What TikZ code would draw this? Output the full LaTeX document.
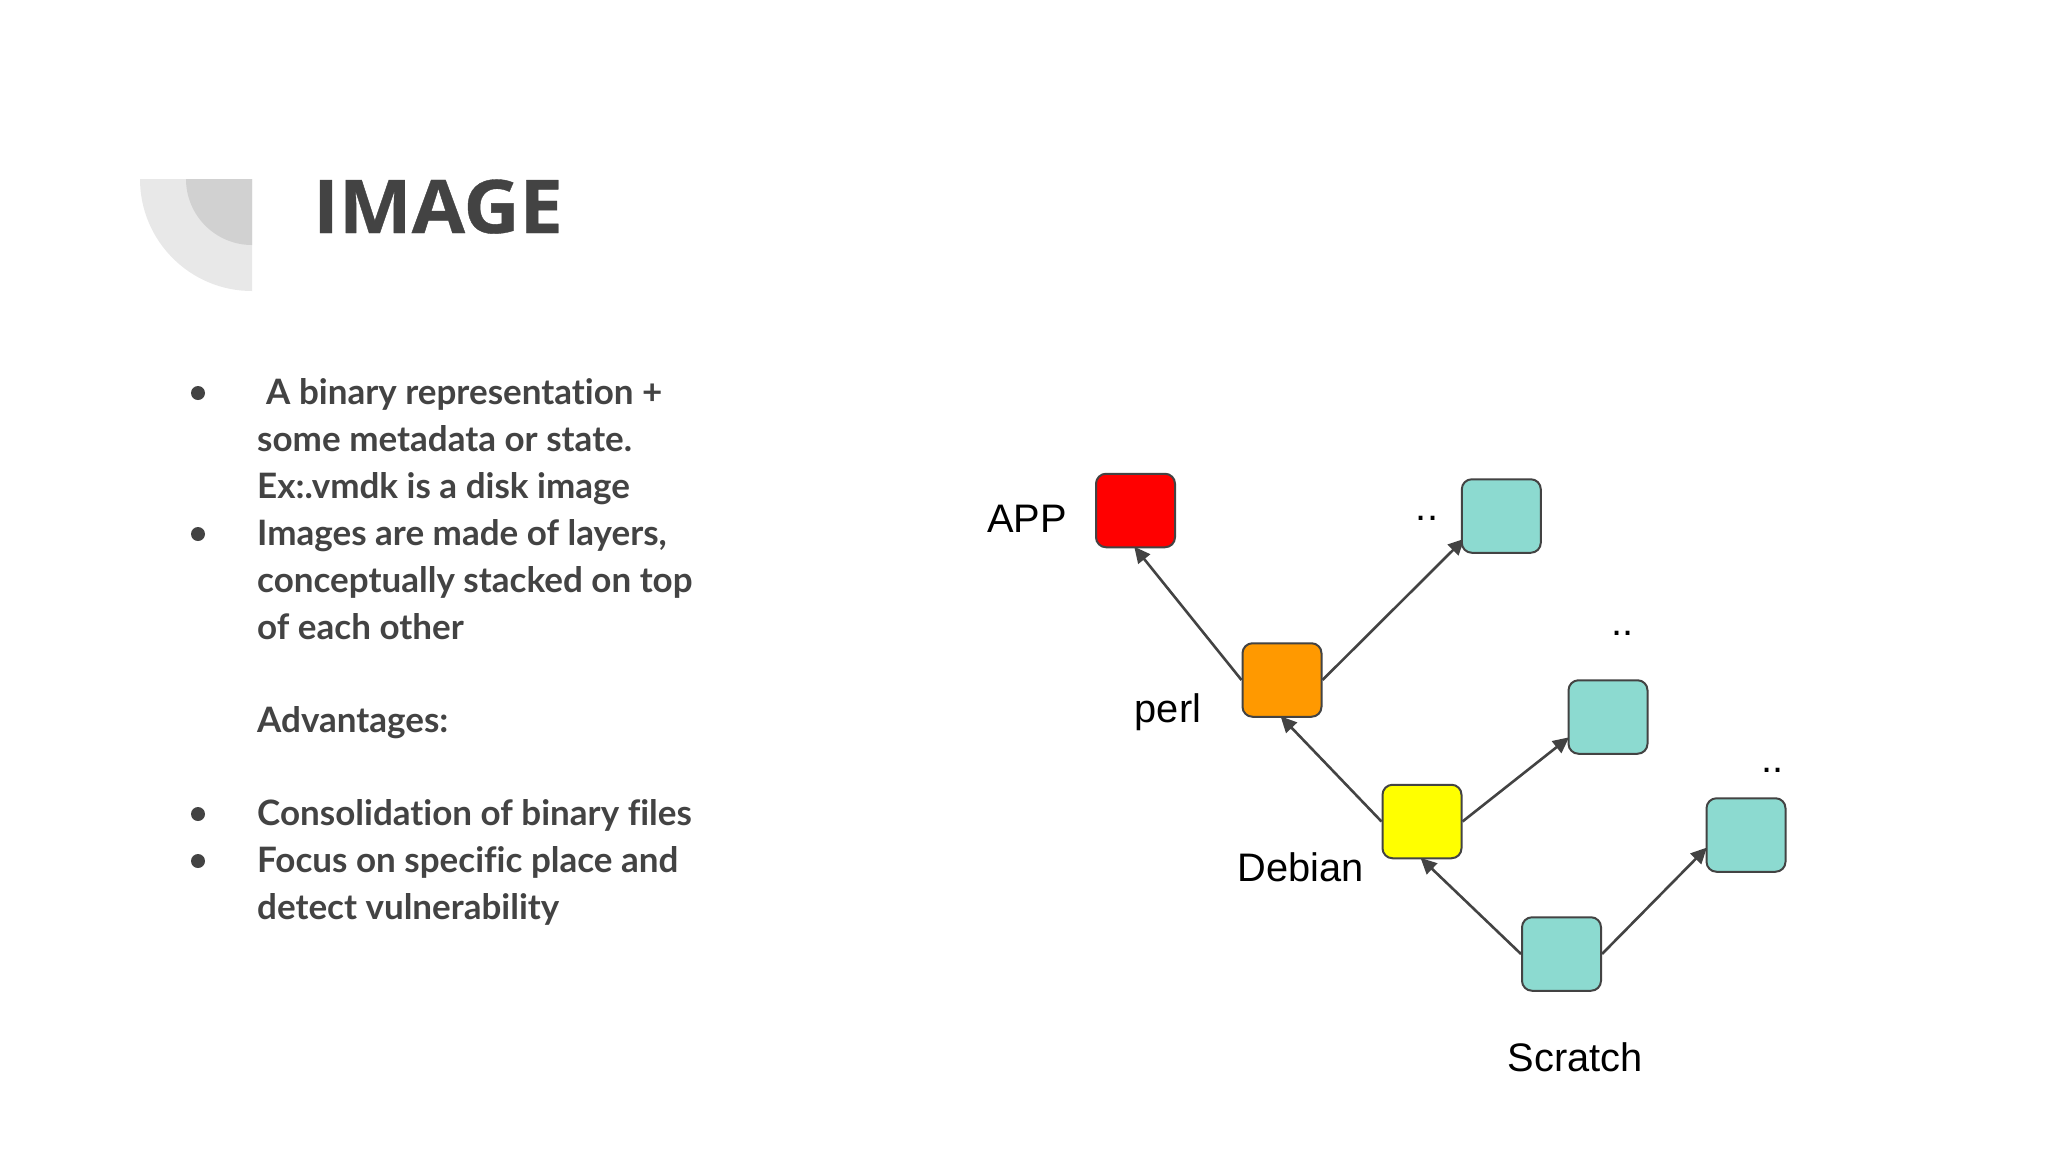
\documentclass[tikz,border=0pt]{standalone}
\usepackage{fontspec}
\usetikzlibrary{arrows.meta,backgrounds}
\setmainfont{Liberation Sans}
\newfontfamily\bodyfont[Ligatures={NoCommon}]{Lato}
\newfontfamily\titlefont[BoldFeatures={FakeBold=0.5}]{Open Sans}
\definecolor{ink}{HTML}{434343}
\definecolor{tealbox}{HTML}{8CDAD0}
\definecolor{orangebox}{HTML}{FF9900}
\definecolor{yellowbox}{HTML}{FFFF00}
\definecolor{redbox}{HTML}{FF0000}
\tikzset{
  x=1pt,y=-1pt,
  layer/.style={draw=ink,line width=2pt,rounded corners=10pt,minimum width=79pt,minimum height=73.5pt,inner sep=0pt},
  link/.style={draw=ink,line width=2.6pt,-{Triangle[length=16pt,width=15pt]},shorten >=-2pt},
  body/.style={anchor=base west,inner sep=0pt,text=ink,font=\bodyfont\bfseries\fontsize{35}{47}\selectfont},
  tag/.style={anchor=base,inner sep=0pt,text=black,font=\fontsize{39.8}{47}\selectfont},
  dotmark/.style={circle,fill=ink,inner sep=0pt,minimum size=14pt},
}
\begin{document}
\begin{tikzpicture}
\begin{scope}[on background layer]
\useasboundingbox[fill=white] (0,0) rectangle (2048,1152);
\end{scope}
% corner decoration
\fill[black!9] (252,179) -- (140,179) arc[start angle=180,end angle=270,x radius=112,y radius=-112] -- cycle;
\fill[black!18] (252,179) -- (186,179) arc[start angle=180,end angle=270,x radius=66,y radius=-66] -- cycle;
\node[anchor=base west,inner sep=0pt,text=ink,font=\titlefont\bfseries\fontsize{74}{80}\selectfont] (title) at (313,233) {\scalebox{1.045}[1]{IMAGE}};
% bullets
\node[dotmark] (b1) at (198,393) {};
\node[dotmark] (b2) at (198,534) {};
\node[dotmark] (b3) at (198,814) {};
\node[dotmark] (b4) at (198,861) {};
% text
\node[body] (l1) at (266,404) {A binary representation +};
\node[body] (l2) at (257,451) {some metadata or state.};
\node[body] (l3) at (257,498) {Ex:.vmdk is a disk image};
\node[body] (l4) at (257,545) {Images are made of layers,};
\node[body] (l5) at (257,592) {conceptually stacked on top};
\node[body] (l6) at (257,639) {of each other};
\node[body] (l7) at (257,732) {Advantages:};
\node[body] (l8) at (257,825) {Consolidation of binary files};
\node[body] (l9) at (257,872) {Focus on specific place and};
\node[body] (l10) at (257,919) {detect vulnerability};
% boxes
\node[layer,fill=redbox] (app) at (1135.5,510.5) {};
\node[layer,fill=tealbox] (t1) at (1501.3,516) {};
\node[layer,fill=orangebox] (perl) at (1282,680) {};
\node[layer,fill=tealbox] (t2) at (1608,717) {};
\node[layer,fill=yellowbox] (deb) at (1422,821.5) {};
\node[layer,fill=tealbox] (t3) at (1746,835) {};
\node[layer,fill=tealbox] (scr) at (1561.5,954) {};
% links lie under the boxes
\begin{scope}[on background layer]
\draw[link] (perl.west) -- (app.south);
\draw[link,shorten >=-5pt] (perl.east) -- (t1.213);
\draw[link] (deb.west) -- (perl.south);
\draw[link] (deb.east) -- (t2.208);
\draw[link] (scr.west) -- (deb.south);
\draw[link] (scr.east) -- (t3.199);
\end{scope}
% labels
\node[tag] (tapp) at (1027,532) {APP};
\node[tag] (tperl) at (1168,722) {perl};
\node[tag] (tdeb) at (1300.5,881) {Debian};
\node[tag] (tscr) at (1575,1071.5) {Scratch};
\node[tag] (d1) at (1427,520.5) {..};
\node[tag] (d2) at (1622.5,635.5) {..};
\node[tag] (d3) at (1772.5,772.5) {..};
\end{tikzpicture}
\end{document}
